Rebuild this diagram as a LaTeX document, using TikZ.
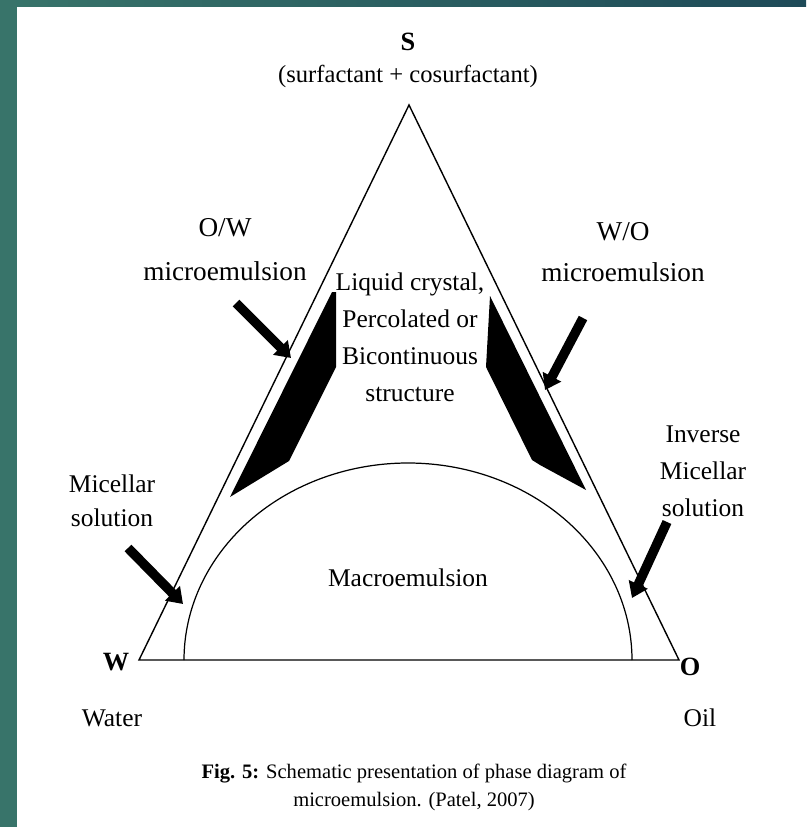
\documentclass[tikz,border=0pt]{standalone}
\usepackage{fontspec}
\setmainfont{Liberation Serif}
\usepackage{tikz}
\usetikzlibrary{arrows.meta, calc, positioning}
\definecolor{bgteal}{RGB}{56,116,106}
\definecolor{bgdark}{RGB}{30,74,88}

\begin{document}
\begin{tikzpicture}[>=stealth, x=0.02cm, y=-0.02cm,
  lbl/.style={font=\fontsize{14.5}{21}\selectfont, align=center, inner sep=0pt},
  corner/.style={font=\fontsize{15}{18}\selectfont\bfseries, inner sep=0pt},
  blockarrow/.style={line width=0.19cm, -{Triangle[length=0.3cm, width=0.4cm]}}]
% page and frame
\fill[white] (0,0) rectangle (806,827);
\fill[bgteal] (0,0) rectangle (17,827);
\shade[left color=bgteal, right color=bgdark] (0,0) rectangle (806,7);
\useasboundingbox (0,0) rectangle (806,827);
% corners of the triangle
\coordinate (s) at (409,105);
\coordinate (w) at (139,660);
\coordinate (o) at (679,660);
\draw[line width=0.8pt] (w) -- (s) -- (o) -- cycle;
% macroemulsion dome
\draw[line width=0.7pt, domain=180:0, samples=90, smooth] plot ({408+224*cos(\x)}, {660-197*sin(\x)});
% microemulsion regions
\fill[black] (332,292) -- (336,292) -- (336,367) -- (289,461) -- (230,497) -- cycle;
\fill[black] (490,296) -- (486,367) -- (532,460) -- (540,465) -- (586,490) -- cycle;
% labels
\node[corner] (slbl) at (408,42) {S};
\node[lbl, font=\fontsize{14}{18}\selectfont] (surf) at (408,76) {(surfactant + cosurfactant)};
\node[lbl, font=\fontsize{15.5}{25}\selectfont] (ow) at (225,250) {O/W\\microemulsion};
\node[lbl, font=\fontsize{15.5}{23}\selectfont] (wo) at (623,252) {W/O\\microemulsion};
\node[lbl] (lc) at (410,337) {Liquid crystal,\\Percolated or\\Bicontinuous\\structure};
\node[lbl, font=\fontsize{14.5}{19.5}\selectfont] (mic) at (112,501) {Micellar\\solution};
\node[lbl] (inv) at (703,471) {Inverse\\Micellar\\solution};
\node[lbl] (macro) at (408,578) {Macroemulsion};
\node[corner] (wlbl) at (116,662) {W};
\node[corner] (olbl) at (690,667) {O};
\node[lbl] (water) at (112,718) {Water};
\node[lbl] (oil) at (700,718) {Oil};
% arrows
\coordinate (owtail) at (236,303);
\coordinate (owtip) at (291,358);
\coordinate (wotail) at (583,318);
\coordinate (wotip) at (545,390);
\coordinate (mictail) at (128,548);
\coordinate (mictip) at (183,604);
\coordinate (invtail) at (667,522);
\coordinate (invtip) at (632,598);
\draw[blockarrow] (owtail) -- (owtip);
\draw[blockarrow] (wotail) -- (wotip);
\draw[blockarrow] (mictail) -- (mictip);
\draw[blockarrow] (invtail) -- (invtip);
% caption
\node[lbl, font=\fontsize{11.7}{16}\selectfont] (cap) at (414,787)
  {\textbf{Fig. 5:} Schematic presentation of phase diagram of\\microemulsion. (Patel, 2007)};
\end{tikzpicture}
\end{document}
